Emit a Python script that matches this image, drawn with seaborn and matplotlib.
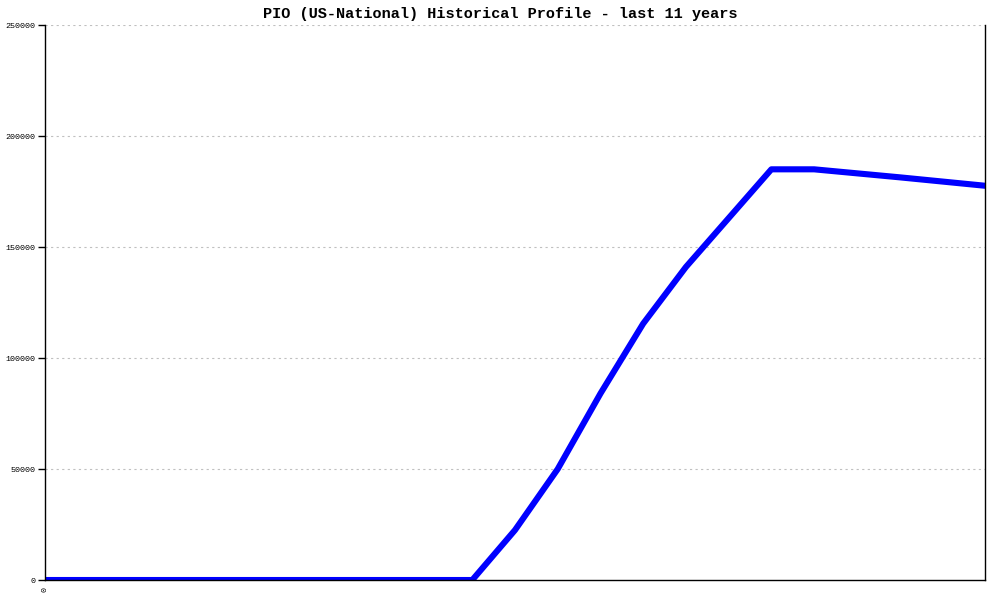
import pandas as pd

import matplotlib
matplotlib.use("Agg")
import matplotlib.pyplot as plt
import seaborn as sns

# semi-annual samples over the last 11 years
periods = list(range(23))
values = [0, 0, 0, 0, 0, 0, 0, 0, 0, 0, 0,
          22500, 50000, 84000, 115500, 141000, 163000, 185000,
          185000, 183200, 181400, 179500, 177600]
xtick_labels = ["0"]
yticks = [0, 50000, 100000, 150000, 200000, 250000]

title = "PIO (US-National) Historical Profile - last 11 years"


def main():
    df = pd.DataFrame({"period": periods, "value": values})

    sns.set_style("white")
    plt.rcParams["font.family"] = ["Liberation Mono", "DejaVu Sans Mono"]
    plt.rcParams["text.color"] = "black"
    plt.rcParams["xtick.color"] = "black"
    plt.rcParams["ytick.color"] = "black"

    fig = plt.figure(figsize=(10, 6), dpi=100)
    ax = fig.add_axes([0.045, 0.0333, 0.94, 0.925])

    sns.lineplot(data=df, x="period", y="value", color="#0000ff",
                 linewidth=4.4, ax=ax)

    ax.set_xlim(0, len(periods) - 1)
    ax.set_ylim(0, 250000)
    ax.set_yticks(yticks)
    ax.set_yticklabels([str(v) for v in yticks], fontsize=6)
    ax.set_xticks([0])
    ax.set_xticklabels(xtick_labels, fontsize=6, rotation=90)
    ax.tick_params(axis="y", left=True, direction="out", length=5, width=1,
                   color="black", labelcolor="black", pad=2)
    ax.tick_params(axis="x", length=0, pad=5, labelcolor="black")

    for y in yticks[1:]:
        ax.axhline(y, color="#c0c0c0", linestyle=(0, (2, 3)), linewidth=0.8, zorder=0)

    for side in ["left", "bottom", "right"]:
        ax.spines[side].set_visible(True)
        ax.spines[side].set_color("black")
        ax.spines[side].set_linewidth(1)
    ax.spines["top"].set_visible(False)

    ax.set_xlabel("")
    ax.set_ylabel("")
    fig.suptitle(title, x=0.5, y=0.988, fontsize=11, fontweight="bold", color="black")

    fig.savefig("out.png", dpi=100)


if __name__ == "__main__":
    main()
